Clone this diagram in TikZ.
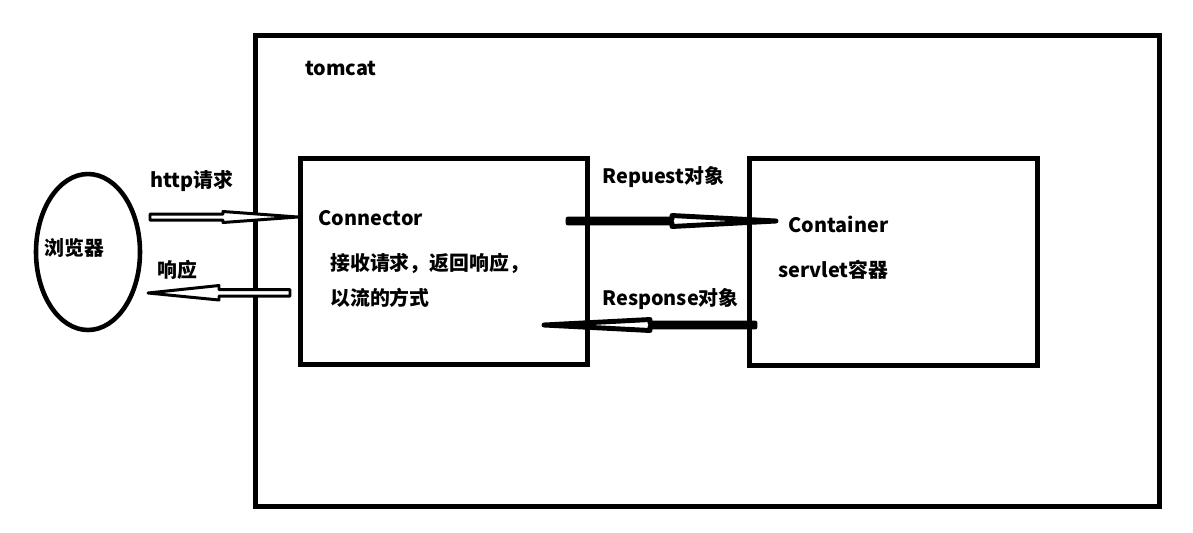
\documentclass[tikz,border=0pt]{standalone}
\usepackage{fontspec}
\setmainfont{Noto Sans CJK SC}
\begin{document}
\begin{tikzpicture}[x=0.02cm,y=-0.02cm,
  frame/.style={draw=black,line width=2.6pt},
  lbl/.style={anchor=west,inner sep=0pt,font=\fontsize{11.3}{13}\selectfont\bfseries},
  thinarrow/.style={draw=black,fill=white,line width=1.7pt,line join=round},
  thickarrow/.style={draw=black,fill=white,line width=2.8pt,line join=round}]
\useasboundingbox (0,0) rectangle (1193,532);
% boxes
\node[frame,minimum width=904*0.02cm,minimum height=471*0.02cm,anchor=north west,inner sep=0pt] (tomcat) at (253,33) {};
\node[frame,minimum width=287*0.02cm,minimum height=206*0.02cm,anchor=north west,inner sep=0pt] (conn) at (298,156) {};
\node[frame,minimum width=288*0.02cm,minimum height=207*0.02cm,anchor=north west,inner sep=0pt] (cont) at (747,156) {};
\draw[frame] (88,252) ellipse [x radius=52, y radius=78];
\coordinate (browser) at (88,252);
% labels
\node[lbl] (tl) at (305,68) {tomcat};
\node[lbl] (bl) at (44,248) {浏览器};
\node[lbl] (hl) at (150,181) {http请求};
\node[lbl] (rl) at (157,270) {响应};
\node[lbl] (cl) at (318,218) {Connector};
\node[lbl] (c1) at (330,263) {接收请求，返回响应，};
\node[lbl] (c2) at (330,298) {以流的方式};
\node[lbl] (ql) at (602,177) {Repuest对象};
\node[lbl] (sl) at (602,299) {Response对象};
\node[lbl] (kl) at (788,224) {Container};
\node[lbl] (k2) at (778,270) {servlet容器};
% http request arrow (right)
\draw[thinarrow] (150,214) -- (223,214) -- (223,211.5) -- (298,217) -- (223,222.5) -- (223,220) -- (150,220) -- cycle;
% response arrow (left)
\draw[thinarrow] (290,289.5) -- (219,289.5) -- (219,285.5) -- (148,293) -- (219,300) -- (219,296) -- (290,296) -- cycle;
% request object arrow (right)
\draw[thickarrow] (568,219) -- (672,219) -- (672,215.5) -- (776,221) -- (672,226.5) -- (672,223) -- (568,223) -- cycle;
% response object arrow (left)
\draw[thickarrow] (755,323) -- (650,323) -- (650,319.5) -- (544,325) -- (650,330.5) -- (650,327) -- (755,327) -- cycle;
\end{tikzpicture}
\end{document}
